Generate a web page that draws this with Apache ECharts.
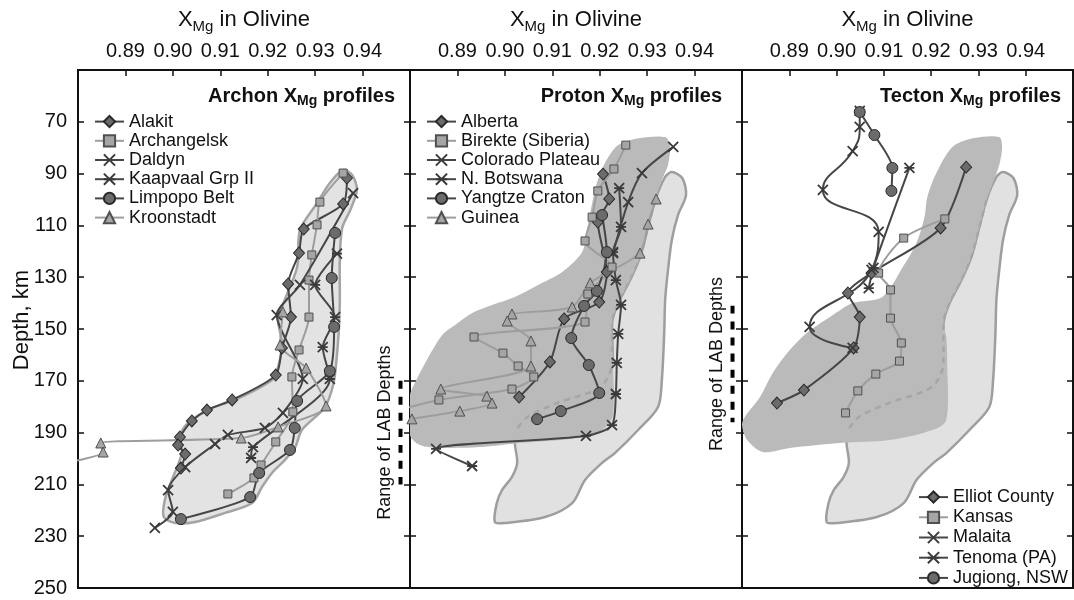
<!DOCTYPE html>
<html>
<head>
<meta charset="utf-8">
<script src="https://cdn.jsdelivr.net/npm/echarts@6/dist/echarts.min.js"></script>
<style>
  html, body { margin: 0; padding: 0; background: #fff; }
  #chart { width: 1074px; height: 600px; }
</style>
</head>
<body>
<div id="chart"></div>
<script>
// ---------------- data: [X_Mg in olivine, depth km] ----------------
const xTickValues = [0.89, 0.90, 0.91, 0.92, 0.93, 0.94];
const depthTickValues = [70, 90, 110, 130, 150, 170, 190, 210, 230, 250];

// Archon profiles
const alakit = [[0.9367,91.7],[0.9359,101.7],[0.9276,111.4],[0.9266,120.7],[0.9243,132.6],[0.9249,145.4],[0.9230,157.3],[0.9217,167.8],[0.9125,177.4],[0.9072,181.3],[0.9040,185.5],[0.9015,191.7],[0.9011,194.8],[0.9026,198.3],[0.9017,203.7]];
const archangelsk = [[0.9359,89.8],[0.9310,101.0],[0.9304,109.8],[0.9293,121.4],[0.9287,131.1],[0.9287,145.4],[0.9266,158.1],[0.9251,168.5],[0.9253,182.0],[0.9217,193.6],[0.9186,202.5],[0.9171,207.5],[0.9116,213.7]];
const daldyn = [[0.9380,97.5],[0.9268,133.0],[0.9219,144.6],[0.9274,169.3],[0.9232,182.4],[0.9194,188.2],[0.9116,190.9],[0.9089,194.4],[0.9026,203.3],[0.8990,212.2],[0.9000,220.6],[0.8962,226.8]];
const kaapvaal = [[0.9346,120.9],[0.9300,133.0],[0.9342,145.4],[0.9316,157.0],[0.9331,169.3],[0.9169,195.6],[0.9165,199.8]];
const limpopo = [[0.9342,112.9],[0.9335,130.3],[0.9340,149.2],[0.9331,166.2],[0.9262,177.8],[0.9257,188.2],[0.9247,196.7],[0.9182,205.6],[0.9163,214.9],[0.9017,223.4]];
const kroonstadt = [[0.9232,143.4],[0.9226,156.2],[0.9281,165.1],[0.9323,179.7],[0.9222,187.8],[0.9144,192.1],[0.8848,194.0],[0.8853,197.5],[0.8700,204.0]];

// Proton profiles
const alberta = [[0.9207,90.2],[0.9220,99.8],[0.9196,108.7],[0.9215,128.0],[0.9199,139.6],[0.9125,146.1],[0.9095,162.7],[0.9030,176.3]];
const birekte = [[0.9255,79.0],[0.9230,88.2],[0.9196,96.7],[0.9184,106.8],[0.9169,116.0],[0.9226,126.1],[0.9175,136.5],[0.9169,147.3],[0.8935,153.1],[0.8996,159.3],[0.9028,164.3],[0.9061,168.5],[0.9015,173.2],[0.8861,177.4],[0.8700,185.0]];
const colorado = [[0.9355,79.7],[0.9289,89.8],[0.9260,101.0],[0.9228,120.7]];
const botswana = [[0.9241,95.6],[0.9245,110.6],[0.9228,120.3],[0.9234,131.1],[0.9245,140.7],[0.9239,151.9],[0.9236,163.1],[0.9234,175.1],[0.9226,187.1],[0.9171,191.3],[0.8855,196.3],[0.8931,202.9]];
const yangtze = [[0.9205,106.0],[0.9215,120.3],[0.9194,135.3],[0.9167,141.1],[0.9140,153.5],[0.9177,163.9],[0.9199,174.7],[0.9118,181.7],[0.9068,184.8]];
const guinea = [[0.9319,99.8],[0.9302,109.5],[0.9285,120.7],[0.9180,132.2],[0.9142,141.5],[0.9015,144.2],[0.9005,146.9],[0.9055,154.6],[0.9055,164.3],[0.8865,173.2],[0.8962,175.9],[0.8973,178.6],[0.8905,181.7],[0.8804,184.7]];

// Tecton profiles
const elliot = [[0.9274,87.5],[0.9220,111.0],[0.9074,128.4],[0.9024,136.1],[0.9049,145.4],[0.9036,157.3],[0.8931,173.6],[0.8874,178.6]];
const kansas = [[0.9229,107.5],[0.9142,114.9],[0.9089,128.4],[0.9114,134.9],[0.9114,145.8],[0.9137,155.4],[0.9133,162.4],[0.9083,167.4],[0.9045,173.9],[0.9019,182.4]];
const malaita = [[0.9049,65.8],[0.9049,72.0],[0.9034,81.3],[0.8971,96.3],[0.9089,112.5],[0.9074,127.2],[0.8943,149.2],[0.9034,157.3]];
const tenoma = [[0.9154,87.8],[0.9078,126.4],[0.9068,134.2]];
const jugiong = [[0.9049,66.2],[0.9080,75.1],[0.9118,87.8],[0.9116,96.7]];

// Envelope outlines
const archonField = [[0.9359,88.6],[0.9378,90.5],[0.9388,96.3],[0.9374,104.1],[0.9357,111.0],[0.9352,123.4],[0.9352,138.8],[0.9350,150.4],[0.9344,163.9],[0.9338,171.6],[0.9321,180.1],[0.9272,189.0],[0.9258,195.6],[0.9236,200.6],[0.9209,205.6],[0.9188,211.0],[0.9167,217.2],[0.9110,221.0],[0.9047,224.5],[0.9005,224.9],[0.8981,222.6],[0.8983,216.0],[0.8998,208.3],[0.9019,197.9],[0.9015,191.7],[0.9032,186.3],[0.9083,180.5],[0.9131,177.4],[0.9209,169.7],[0.9222,164.7],[0.9230,155.4],[0.9222,146.5],[0.9236,138.8],[0.9262,126.1],[0.9268,111.8],[0.9304,101.4],[0.9331,93.6]];
const archonRef = [[0.9352,89.4],[0.9374,91.7],[0.9382,98.3],[0.9365,106.0],[0.9352,115.6],[0.9344,127.2],[0.9338,138.8],[0.9336,151.5],[0.9331,169.7],[0.9323,180.1],[0.9281,189.0],[0.9232,197.9],[0.9205,201.7],[0.9169,208.3],[0.9142,217.2],[0.9085,222.6],[0.9000,224.9],[0.8979,224.5],[0.8983,217.2],[0.8994,212.2],[0.9015,207.1],[0.9026,201.7],[0.9021,194.0],[0.9024,189.0],[0.9047,184.0],[0.9110,178.6],[0.9201,172.4],[0.9226,163.1],[0.9226,147.7],[0.9239,140.0],[0.9264,131.1],[0.9285,122.2],[0.9302,110.6],[0.9317,100.2],[0.9338,91.3]];
const archonRefHidden = [[0.9317,100.2],[0.9302,110.6],[0.9285,122.2],[0.9264,131.1],[0.9239,140.0],[0.9226,147.7],[0.9226,163.1],[0.9201,172.4],[0.9110,178.6],[0.9047,184.0],[0.9024,189.0]];
const protonField = [[0.9239,79.0],[0.9285,76.3],[0.9338,75.9],[0.9348,79.0],[0.9344,86.7],[0.9331,92.5],[0.9317,100.2],[0.9302,110.6],[0.9285,122.2],[0.9264,131.1],[0.9239,140.0],[0.9226,147.7],[0.9228,163.1],[0.9228,183.2],[0.9211,188.2],[0.9180,190.9],[0.9116,192.9],[0.9032,194.0],[0.8948,195.6],[0.8863,195.9],[0.8821,194.8],[0.8800,190.9],[0.8800,175.5],[0.8806,172.4],[0.8832,163.1],[0.8868,152.3],[0.8895,148.5],[0.8931,143.8],[0.8973,140.7],[0.9021,137.6],[0.9070,133.0],[0.9121,128.0],[0.9163,120.3],[0.9173,111.8],[0.9184,101.4],[0.9194,93.6],[0.9211,85.9]];
const protonFieldTecton = [[0.9245,79.7],[0.9291,76.3],[0.9344,75.9],[0.9350,79.7],[0.9344,86.7],[0.9329,94.4],[0.9317,100.2],[0.9302,110.6],[0.9285,122.2],[0.9264,131.1],[0.9239,140.0],[0.9226,147.7],[0.9232,153.1],[0.9234,163.1],[0.9232,185.1],[0.9203,189.0],[0.9112,192.9],[0.9007,194.0],[0.8901,195.9],[0.8844,197.5],[0.8811,192.9],[0.8800,187.1],[0.8806,184.0],[0.8838,176.3],[0.8865,167.0],[0.8901,158.1],[0.8937,151.5],[0.8986,145.4],[0.9034,140.0],[0.9097,137.6],[0.9140,126.1],[0.9169,116.8],[0.9186,106.8],[0.9192,99.0],[0.9211,89.8]];

// Range of LAB depths (km)
const labArchon = [170, 210];
const labProton = [141, 186];
const labXmg = 0.948;

// ---------------- styling ----------------
const FONT = '"Liberation Sans", Arial, Helvetica, sans-serif';
const panels = [
  { title: 'Archon', left: 78, width: 332, titleRight: 395 },
  { title: 'Proton', left: 410, width: 332, titleRight: 722 },
  { title: 'Tecton', left: 742, width: 331, titleRight: 1061 }
];
const GRID_TOP = 70, GRID_H = 518;

const MARKERS = {
  diamond:  { symbol: 'diamond', size: [11, 12] },
  square:   { symbol: 'rect', size: 8 },
  cross:    { symbol: 'path://M0,0L10,10M0,10L10,0', size: 10 },
  star:     { symbol: 'path://M0,0L10,10M0,10L10,0M0,5L10,5', size: 10 },
  circle:   { symbol: 'circle', size: 11 },
  triangle: { symbol: 'triangle', size: 10 }
};
const TONES = {
  dark:  { line: '#464646', fill: '#6b6b6b', border: '#2a2a2a' },
  light: { line: '#9d9d9d', fill: '#a5a5a5', border: '#505050' }
};

function profile(name, data, grid, marker, tone, smooth) {
  const m = MARKERS[marker], t = TONES[tone];
  const stroked = marker === 'cross' || marker === 'star';
  return {
    name, type: 'line', xAxisIndex: grid, yAxisIndex: grid * 2, data,
    smooth: smooth == null ? 0.25 : smooth,
    symbol: m.symbol, symbolSize: m.size, showAllSymbol: true, clip: true, z: 5,
    lineStyle: { color: t.line, width: 2 },
    itemStyle: stroked
      ? { color: '#3a3a3a', borderColor: '#3a3a3a', borderWidth: 1.8 }
      : { color: t.fill, borderColor: t.border, borderWidth: 1 },
    emphasis: { disabled: true }
  };
}

function field(points, grid, style, z) {
  return {
    type: 'custom', xAxisIndex: grid, yAxisIndex: grid * 2, clip: true, silent: true, z,
    data: [[0.91, 150]],
    renderItem: (params, api) => ({
      type: 'polygon',
      shape: { points: points.map(p => api.coord(p)), smooth: 0.3 },
      style
    })
  };
}

function traceLine(id, data, grid, lineStyle, z) {
  return {
    id, type: 'line', xAxisIndex: grid, yAxisIndex: grid * 2, data,
    showSymbol: false, symbol: 'none', smooth: 0.3, clip: false, silent: true, z,
    lineStyle
  };
}

const lightFieldStyle = { fill: '#e1e1e1', stroke: '#9e9e9e', lineWidth: 2.5 };
const darkFieldStyle = { fill: '#bababa' };
const hiddenEdge = { color: '#a6a6a6', width: 2.5, type: [6, 5] };
const labStyle = { color: '#000', width: 4, type: [8, 8] };

const series = [
  field(archonField, 0, { fill: '#e3e3e3', stroke: '#a4a4a4', lineWidth: 2.5 }, 1),
  field(archonRef, 1, lightFieldStyle, 1),
  field(protonField, 1, darkFieldStyle, 2),
  traceLine('hidden1', archonRefHidden, 1, hiddenEdge, 3),
  field(archonRef, 2, lightFieldStyle, 1),
  field(protonFieldTecton, 2, darkFieldStyle, 2),
  traceLine('hidden2', archonRefHidden, 2, hiddenEdge, 3),

  traceLine('labArchon', labArchon.map(d => [labXmg, d]), 0, labStyle, 4),
  traceLine('labProton', labProton.map(d => [labXmg, d]), 1, labStyle, 4),

  profile('Alakit', alakit, 0, 'diamond', 'dark'),
  profile('Archangelsk', archangelsk, 0, 'square', 'light'),
  profile('Daldyn', daldyn, 0, 'cross', 'dark'),
  profile('Kaapvaal Grp II', kaapvaal, 0, 'star', 'dark'),
  profile('Limpopo Belt', limpopo, 0, 'circle', 'dark'),
  profile('Kroonstadt', kroonstadt, 0, 'triangle', 'light'),

  profile('Alberta', alberta, 1, 'diamond', 'dark'),
  profile('Birekte (Siberia)', birekte, 1, 'square', 'light'),
  profile('Colorado Plateau', colorado, 1, 'cross', 'dark'),
  profile('N. Botswana', botswana, 1, 'star', 'dark'),
  profile('Yangtze Craton', yangtze, 1, 'circle', 'dark'),
  profile('Guinea', guinea, 1, 'triangle', 'light'),

  profile('Elliot County', elliot, 2, 'diamond', 'dark'),
  profile('Kansas', kansas, 2, 'square', 'light'),
  profile('Malaita', malaita, 2, 'cross', 'dark', 0.5),
  profile('Tenoma (PA)', tenoma, 2, 'star', 'dark'),
  profile('Jugiong, NSW', jugiong, 2, 'circle', 'dark')
];

const grids = panels.map(p => ({
  left: p.left, top: GRID_TOP, width: p.width, height: GRID_H,
  show: true, borderColor: '#111', borderWidth: 2, backgroundColor: 'transparent',
  containLabel: false, outerBoundsMode: 'none'
}));

const xAxes = panels.map((p, i) => ({
  gridIndex: i, type: 'value', position: 'top', min: 0.88, max: 0.95, interval: 0.01,
  axisLine: { show: false }, splitLine: { show: false },
  axisTick: { show: true, inside: true, length: 6, lineStyle: { color: '#111', width: 1.5 } },
  axisLabel: {
    show: true, margin: 9, fontSize: 20, color: '#111', fontFamily: FONT,
    formatter: v => xTickValues.some(t => Math.abs(t - v) < 1e-6) ? v.toFixed(2) : ''
  }
}));

const yAxes = [];
panels.forEach((p, i) => {
  [ 'left', 'right' ].forEach(side => {
    yAxes.push({
      gridIndex: i, type: 'value', position: side, inverse: true,
      min: 50, max: 250, interval: 20,
      axisLine: { show: false }, splitLine: { show: false },
      axisTick: { show: true, inside: true, length: 6, lineStyle: { color: '#111', width: 1.5 } },
      axisLabel: {
        show: i === 0 && side === 'left', margin: 11, fontSize: 20, color: '#111', fontFamily: FONT,
        formatter: v => depthTickValues.indexOf(v) >= 0 ? String(v) : ''
      }
    });
  });
});

function legendBlock(names, left, top, rowH) {
  return {
    data: names, orient: 'vertical', left, top, padding: 0, itemGap: 0,
    itemWidth: 29, itemHeight: 14, selectedMode: false,
    textStyle: { fontSize: 18, lineHeight: rowH, color: '#111', fontFamily: FONT }
  };
}

const chart = echarts.init(document.getElementById('chart'), null, { renderer: 'canvas' });
chart.setOption({
  animation: false,
  backgroundColor: '#fff',
  grid: grids,
  xAxis: xAxes,
  yAxis: yAxes,
  legend: [
    legendBlock(['Alakit', 'Archangelsk', 'Daldyn', 'Kaapvaal Grp II', 'Limpopo Belt', 'Kroonstadt'], 94, 112, 19.2),
    legendBlock(['Alberta', 'Birekte (Siberia)', 'Colorado Plateau', 'N. Botswana', 'Yangtze Craton', 'Guinea'], 426, 112, 19.2),
    legendBlock(['Elliot County', 'Kansas', 'Malaita', 'Tenoma (PA)', 'Jugiong, NSW'], 918, 487, 20.2)
  ],
  series
});

// ---------------- text annotations ----------------
const graphics = [];
panels.forEach(p => {
  graphics.push({
    type: 'text', x: p.left + p.width / 2, y: 20, silent: true,
    style: {
      text: '{a|X}{s|Mg}{a| in Olivine}', align: 'center', verticalAlign: 'middle',
      rich: {
        a: { fontSize: 22, fontFamily: FONT, fill: '#111' },
        s: { fontSize: 15, fontFamily: FONT, fill: '#111', padding: [13, 0, 0, 0] }
      }
    }
  });
  graphics.push({
    type: 'text', x: p.titleRight, y: 96, silent: true,
    style: {
      text: '{a|' + p.title + ' X}{s|Mg}{a| profiles}', align: 'right', verticalAlign: 'middle',
      rich: {
        a: { fontSize: 20, fontWeight: 'bold', fontFamily: FONT, fill: '#111' },
        s: { fontSize: 14, fontWeight: 'bold', fontFamily: FONT, fill: '#111', padding: [11, 0, 0, 0] }
      }
    }
  });
});
graphics.push({
  type: 'text', x: 22, y: 320, rotation: Math.PI / 2, silent: true,
  style: { text: 'Depth, km', fontSize: 22, fontFamily: FONT, fill: '#111', align: 'center', verticalAlign: 'middle' }
});
[['labArchon', labArchon], ['labProton', labProton]].forEach(([id, range]) => {
  const pt = chart.convertToPixel({ seriesId: id }, [labXmg, (range[0] + range[1]) / 2]);
  graphics.push({
    type: 'text', x: pt[0] - 15, y: pt[1], rotation: Math.PI / 2, silent: true,
    style: { text: 'Range of LAB Depths', fontSize: 18, fontFamily: FONT, fill: '#111', align: 'center', verticalAlign: 'middle' }
  });
});
chart.setOption({ graphic: graphics });
</script>
</body>
</html>
